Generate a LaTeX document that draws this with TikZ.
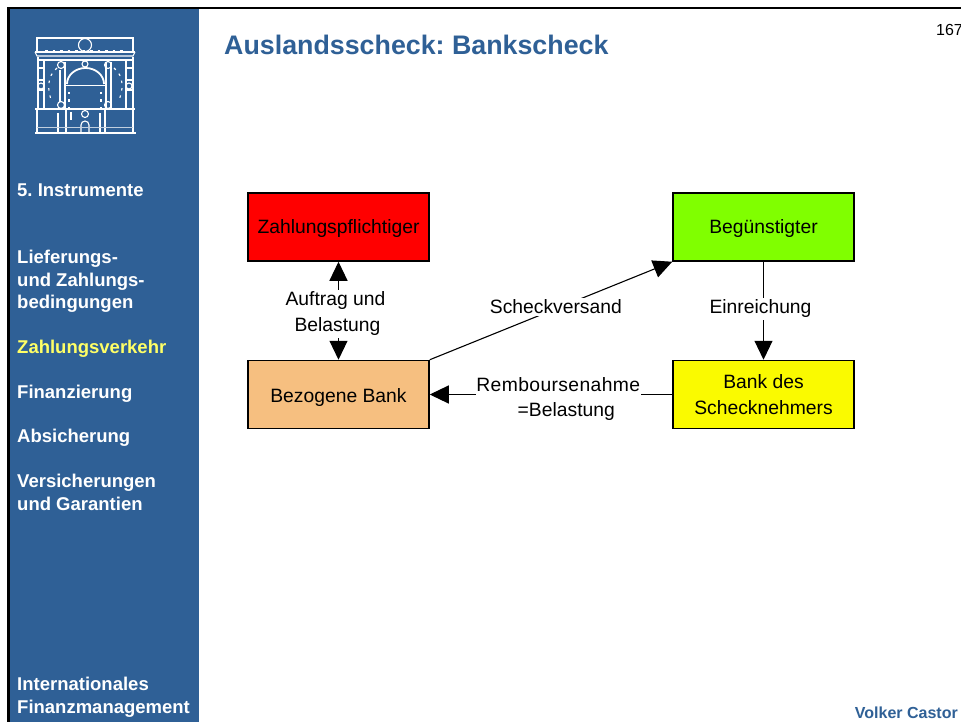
\documentclass[tikz,border=0pt]{standalone}
\usepackage{fontspec}
\setmainfont{Liberation Sans}
\frenchspacing
\usetikzlibrary{arrows.meta}
\definecolor{sidebar}{HTML}{2F6096}
\definecolor{orangebox}{HTML}{F6BF80}
\definecolor{greenbox}{HTML}{80FF00}
\definecolor{yellowbox}{HTML}{FAFA00}
\newcommand{\dropline}[2]{\raisebox{-#1}[0pt][0pt]{#2}}
\tikzset{
  x=1pt,y=-1pt,
  nav/.style={anchor=base west,inner sep=0pt,text=white,font=\fontsize{18.5}{22.5}\selectfont\bfseries,align=left},
  flowbox/.style={draw=black,line width=1.5pt,minimum width=181pt,minimum height=68pt,inner sep=0pt,align=center,font=\fontsize{19.3}{26}\selectfont},
  lbl/.style={fill=white,inner sep=2pt,align=center,font=\fontsize{19.3}{26.5}\selectfont},
  conn/.style={line width=1.1pt,-{Triangle[length=19pt,width=18pt]}},
  connboth/.style={line width=1.1pt,{Triangle[length=19pt,width=18pt]}-{Triangle[length=19pt,width=18pt]}},
  logo/.style={draw=white,line width=1.1pt},
  logothick/.style={draw=white,line width=1.8pt},
  logodots/.style={draw=white,line width=1.1pt,dash pattern=on 2.5pt off 5pt},
}
\begin{document}
\begin{tikzpicture}
\useasboundingbox (0,0) rectangle (961,722);
\fill[white] (0,0) rectangle (961,722);
\fill[sidebar] (9,9) rectangle (199,722);
\fill[black] (7,7) rectangle (961,9.5);
\fill[black] (7,7) rectangle (9.5,722);
% logo
\draw[logo] (37,52) -- (37,38) -- (133,38) -- (133,52);
\draw[logo] (35,52) -- (135,52);
\draw[logo] (35,52) -- (37,56) -- (133,56) -- (135,52);
\draw[logo] (85,45) circle (6.5);
\draw[logodots] (45,51) -- (125,51);
\draw[logo] (38,57) -- (38,110) (133,57) -- (133,110);
\draw[logo] (44,60) -- (44,109) (126,60) -- (126,109);
\draw[logo] (37,60) -- (133,60);
\draw[logo] (38,68) -- (44,68) (38,80) -- (44,80) (38,90) -- (44,90) (126,68) -- (133,68) (126,80) -- (133,80) (126,90) -- (133,90);
\draw[logothick] (65,62) -- (65,109) (106,62) -- (106,109);
\draw[logo] (111,62) -- (111,109) (60,70) -- (60,102);
\draw[logothick] (67,84) arc[start angle=180,end angle=360,x radius=18.5,y radius=16];
\draw[logothick] (66,85.5) -- (105,85.5);
\draw[logo] (85,64) circle (3);
\draw[logo] (61,65) circle (3.5) (108,65) circle (3.5) (61,105) circle (3.5) (108,105) circle (3.5) (41,86) circle (3) (129,86) circle (3);
\draw[logodots] (57,68) .. controls (47,76) and (47,90) .. (52,102);
\draw[logodots] (114,68) .. controls (124,76) and (124,90) .. (118,102);
\draw[logodots] (69,92) -- (69,108) (101,92) -- (101,108);
\draw[logothick] (35,109) -- (135,109);
\draw[logo] (37,110) -- (37,133) (133,110) -- (133,133);
\draw[logothick] (35,133) -- (136,133);
\draw[logo] (66,110) -- (66,132) (105,110) -- (105,132) (58,113) -- (58,132) (100,113) -- (100,132) (71,112) -- (71,120);
\draw[logo] (85,114) circle (3.5);
\draw[logo] (81,132) -- (81,125) arc[start angle=180,end angle=360,radius=4] -- (89,132);
\draw[draw=white!70!sidebar,line width=1pt] (37,128) -- (133,128);
% title and page furniture
\node[anchor=base west,inner sep=0pt,text=sidebar,font=\fontsize{26.8}{30}\selectfont\bfseries] (title) at (224,54.5) {Auslandsscheck: Bankscheck};
\node[anchor=base east,inner sep=0pt,font=\fontsize{16}{18}\selectfont] (page) at (963,36) {167};
\node[anchor=base east,inner sep=0pt,text=sidebar,font=\fontsize{16}{18}\selectfont\bfseries] (author) at (958,718) {Volker Castor};
% navigation
\node[nav] (n1) at (17,197) {5. Instrumente};
\node[nav,anchor=north west] (n2) at (17,250) {Lieferungs-\\und Zahlungs-\\bedingungen};
\node[nav,text={rgb,255:red,255;green,255;blue,102}] (n3) at (17,353) {Zahlungsverkehr};
\node[nav] (n4) at (17,398) {Finanzierung};
\node[nav] (n5) at (17,442.5) {Absicherung};
\node[nav,anchor=north west] (n6) at (17,474) {Versicherungen\\und Garantien};
\node[nav,anchor=north west] (n7) at (17,677) {Internationales\\Finanzmanagement};
% boxes
\node[flowbox,fill=red] (zp) at (338.5,227) {\dropline{6.5pt}{Zahlungspflichtiger}};
\node[flowbox,fill=orangebox] (bb) at (338.5,394.5) {\dropline{8pt}{Bezogene Bank}};
\node[flowbox,fill=greenbox] (bg) at (763.5,227) {\dropline{6.5pt}{Begünstigter}};
\node[flowbox,fill=yellowbox] (bs) at (763.5,394.5) {\dropline{6.8pt}{\begin{tabular}{@{}c@{}}Bank des\\Schecknehmers\end{tabular}}};
% connectors
\draw[connboth] (zp) -- node[lbl,yshift=-3pt,xshift=-3pt] (l1) {Auftrag und\\\hspace*{4pt}Belastung} (bb);
\draw[conn] (bb.north east) -- node[lbl,pos=.52,yshift=2pt] (l2) {Scheckversand} (bg.south west);
\draw[conn] (bg) -- node[lbl,pos=.46,xshift=-3pt,yshift=-2pt] (l3) {Einreichung} (bs);
\draw[conn] (bs) -- node[lbl,pos=.47,yshift=-4.5pt,inner xsep=0.5pt,font=\fontsize{19.3}{24.5}\selectfont] (l4) {\addfontfeature{LetterSpace=2}Remboursenahme\\\hspace*{16pt}=Belastung} (bb);
\end{tikzpicture}
\end{document}
